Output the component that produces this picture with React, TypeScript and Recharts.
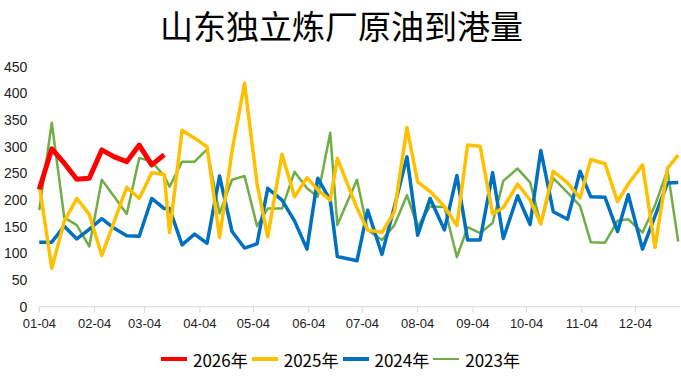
import React from "react";
import { LineChart, Line, XAxis, YAxis } from "recharts";

const dates = [
  "01-04", "01-11", "01-18", "01-25", "02-01", "02-08", "02-15", "02-22", "03-01", "03-08",
  "03-15", "03-18", "03-25", "04-01", "04-08", "04-15", "04-22", "04-29", "05-06", "05-12",
  "05-20", "05-27", "06-03", "06-09", "06-16", "06-20", "07-01", "07-07", "07-15", "07-22",
  "07-29", "08-04", "08-11", "08-19", "08-26", "09-01", "09-08", "09-15", "09-21", "09-29",
  "10-06", "10-12", "10-19", "10-27", "11-03", "11-09", "11-17", "11-24", "11-30", "12-08",
  "12-15", "12-22", "12-28",
];

const s2026 = [220, 296, 269, 239, 241, 294, 281, 272, 303, 266, 285];

const s2025 = [
  228, 72, 160, 203, 173, 96, 160, 224, 203, 251,
  248, 139, 331, 316, 300, 130, 292, 419, 231, 131,
  286, 206, 242, 219, 200, 278, 185, 144, 139, 178,
  336, 234, 216, 188, 152, 303, 301, 174, 186, 230,
  200, 155, 254, 232, 204, 276, 268, 197, 230, 266,
  111, 260, 284,
];

const s2024 = [
  121, 121, 151, 127, 145, 165, 147, 133, 132, 203,
  184, 184, 116, 136, 119, 245, 141, 110, 118, 222,
  200, 161, 108, 241, 200, 94, 86, 181, 98, 188,
  281, 134, 203, 144, 246, 125, 125, 251, 128, 208,
  154, 293, 178, 164, 254, 206, 205, 141, 210, 108,
  170, 232, 233,
];

const s2023 = [
  181, 345, 167, 153, 113, 238, 206, 174, 279, 272,
  245, 225, 272, 272, 295, 175, 238, 245, 151, 184,
  184, 253, 222, 206, 326, 153, 238, 144, 125, 153,
  209, 150, 188, 187, 93, 149, 138, 157, 236, 259,
  233, 155, 241, 214, 189, 121, 120, 161, 164, 139,
  190, 256, 122,
];

const tickLabels = [
  "01-04", "02-04", "03-04", "04-04", "05-04", "06-04",
  "07-04", "08-04", "09-04", "10-04", "11-04", "12-04",
];
const yTicks = [0, 50, 100, 150, 200, 250, 300, 350, 400, 450];

const monthStart = [0, 31, 59, 90, 120, 151, 181, 212, 243, 273, 304, 334];
const toDay = (s: string) => {
  const [m, d] = s.split("-").map(Number);
  return monthStart[m - 1] + d;
};
const xTicks = tickLabels.map(toDay);
const labelByDay: Record<number, string> = {};
tickLabels.forEach((l) => (labelByDay[toDay(l)] = l));

const data = dates.map((d, i) => ({
  day: toDay(d),
  y2026: i < s2026.length ? s2026[i] : null,
  y2025: s2025[i],
  y2024: s2024[i],
  y2023: s2023[i],
}));

const series = [
  { key: "y2026", name: "2026年", color: "#FF0000", width: 5, legendH: 4.5 },
  { key: "y2025", name: "2025年", color: "#FFC000", width: 3.5, legendH: 3.5 },
  { key: "y2024", name: "2024年", color: "#0070C0", width: 3.5, legendH: 3.5 },
  { key: "y2023", name: "2023年", color: "#70AD47", width: 2.5, legendH: 2.5 },
];

const numFont = "'Liberation Sans', Arial, sans-serif";
const cjkFont = "'Noto Sans CJK SC', 'Noto Sans', sans-serif";

export default function App() {
  return (
    <div
      style={{
        position: "absolute",
        left: 0,
        top: 0,
        width: 681,
        height: 377,
        background: "#ffffff",
      }}
    >
      <div style={{ position: "absolute", left: 0, top: 0 }}>
        <LineChart
          width={681}
          height={377}
          data={data}
          margin={{ top: 66.7, right: 1, bottom: 40.3, left: 0 }}
        >
          <XAxis
            type="number"
            dataKey="day"
            domain={[4, 363]}
            ticks={xTicks}
            interval={0}
            tickFormatter={(v: number) => labelByDay[v] ?? ""}
            height={30}
            stroke="#d9d9d9"
            tickSize={6}
            tickMargin={6}
            tick={{ fill: "#222", fontSize: 13, fontFamily: numFont }}
          />
          <YAxis
            type="number"
            domain={[0, 450]}
            ticks={yTicks}
            interval={0}
            width={39.3}
            axisLine={false}
            tickLine={false}
            tickSize={6}
            tickMargin={6}
            tick={{ fill: "#222", fontSize: 14, fontFamily: numFont }}
          />
          {[...series].reverse().map((s) => (
            <Line
              key={s.key}
              type="linear"
              dataKey={s.key}
              name={s.name}
              stroke={s.color}
              strokeWidth={s.width}
              strokeLinejoin="round"
              dot={false}
              activeDot={false}
              isAnimationActive={false}
              connectNulls={false}
            />
          ))}
        </LineChart>
      </div>
      <h1
        style={{
          position: "absolute",
          zIndex: 2,
          left: 160,
          top: 2,
          margin: 0,
          padding: 0,
          fontWeight: 400,
          fontSize: 33,
          lineHeight: "46px",
          fontFamily: cjkFont,
          color: "#000",
          whiteSpace: "nowrap",
        }}
      >
        山东独立炼厂原油到港量
      </h1>
      <div
        style={{
          position: "absolute",
          left: 161,
          top: 347,
          height: 24,
          display: "flex",
          alignItems: "center",
          fontFamily: cjkFont,
          fontSize: 17,
          color: "#000",
          whiteSpace: "nowrap",
        }}
      >
        {series.map((s) => (
          <div key={s.key} style={{ display: "flex", alignItems: "center", marginRight: 4 }}>
            <span
              style={{
                display: "inline-block",
                width: 26,
                height: s.legendH,
                background: s.color,
                marginRight: 6,
              }}
            />
            <span>{s.name}</span>
          </div>
        ))}
      </div>
    </div>
  );
}
